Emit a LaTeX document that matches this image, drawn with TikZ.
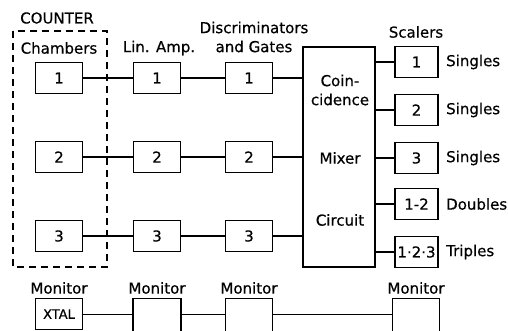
\documentclass[tikz,border=0pt]{standalone}
\usepackage{fontspec}
\setmainfont{DejaVu Sans}[FakeBold=0.5]
\usepackage{tikz}
\usetikzlibrary{positioning}

\begin{document}
\begin{tikzpicture}[
  x=1pt, y=-1pt,
  every node/.style = {font=\fontsize{15}{19}\selectfont},
  box/.style    = {rectangle, draw, line width=1.1pt, minimum width=47pt,
                   minimum height=31pt, inner sep=0pt},
  scalbox/.style= {box, minimum width=43pt},
  monbox/.style = {box, minimum height=42pt, anchor=north},
  wire/.style   = {line width=1.1pt},
  label/.style  = {inner sep=0pt},
  side/.style   = {label, anchor=west},
]
\useasboundingbox (0,0) rectangle (508,330);

%% --- Counter chambers ---
\node[box] (c1) at (59,78)  {1};
\node[box] (c2) at (59,157) {2};
\node[box] (c3) at (59,236) {3};
\draw[line width=1.1pt, dash pattern=on 7pt off 5pt] (13,31) rectangle (107,267);

%% --- Linear amplifiers ---
\node[box] (a1) at (157,78)  {1};
\node[box] (a2) at (157,157) {2};
\node[box] (a3) at (157,236) {3};

%% --- Discriminators ---
\node[box] (d1) at (249,78)  {1};
\node[box] (d2) at (249,157) {2};
\node[box] (d3) at (249,236) {3};

%% --- Mixer ---
\node[draw, line width=1.1pt, minimum width=72pt, minimum height=220pt,
      inner sep=0pt] (mix) at (339,157) {};
\node[label, align=center] (coin) at (340,90) {Coin-\\cidence};
\node[label] (mixer)   at (340,158) {Mixer};
\node[label] (circuit) at (340,220) {Circuit};

%% --- Scalers ---
\node[scalbox] (s1) at (416.5,62)  {1};
\node[scalbox] (s2) at (416.5,110) {2};
\node[scalbox] (s3) at (416.5,158) {3};
\node[scalbox] (s4) at (416.5,204) {1-2};
\node[scalbox] (s5) at (416.5,252) {1·2·3};
\node[side] at (446,62)  {Singles};
\node[side] at (446,110) {Singles};
\node[side] at (446,158) {Singles};
\node[side] at (446,204) {Doubles};
\node[side] at (446,252) {Triples};

%% --- Monitors ---
\node[monbox, minimum height=31pt,
      font=\fontsize{13}{15}\selectfont] (m1) at (59,298) {XTAL};
\node[monbox, minimum width=48pt] (m2) at (157,298) {};
\node[monbox] (m3) at (249,298) {};
\node[monbox] (m4) at (416,298) {};

%% --- Wires ---
\foreach \i in {1,2,3} {
  \draw[wire] (c\i) -- (a\i);
  \draw[wire] (a\i) -- (d\i);
  \draw[wire] (d\i) -- (d\i -| mix.west);
}
\foreach \i in {1,...,5}
  \draw[wire] (s\i -| mix.east) -- (s\i);
\draw[wire] (m1.east) -- (m1.east -| m2.west);
\draw[wire] (m1.east -| m2.east) -- (m1.east -| m3.west);
\draw[wire] (m1.east -| m3.east) -- (m1.east -| m4.west);

%% --- Column labels ---
\node[label] at (57,18) {COUNTER};
\node[label] at (59,48) {Chambers};
\node[label] at (159,48) {Lin. Amp.};
\node[label, align=center] at (254,37) {Discriminators\\and Gates};
\node[label] at (416,32) {Scalers};
\node[label, above=4pt of m1] {Monitor};
\node[label, above=4pt of m2] {Monitor};
\node[label, above=4pt of m3] {Monitor};
\node[label, above=4pt of m4] {Monitor};

\end{tikzpicture}
\end{document}
